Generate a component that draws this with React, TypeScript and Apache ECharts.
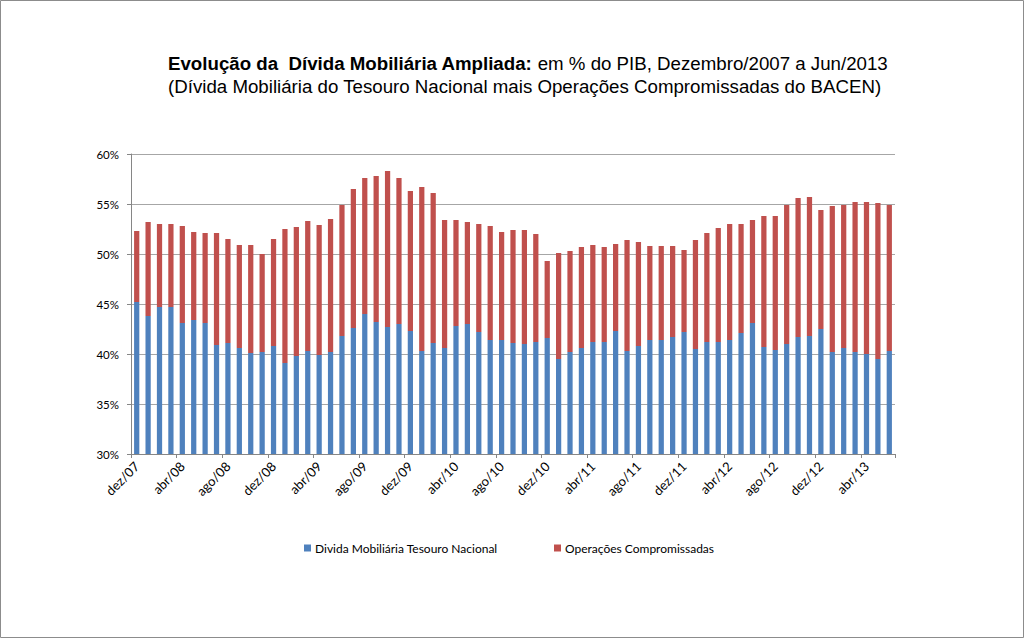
import React, { useEffect, useRef } from "react";
import * as echarts from "echarts";

const monthNames = ["jan", "fev", "mar", "abr", "mai", "jun", "jul", "ago", "set", "out", "nov", "dez"];
const fullYears = ["08", "09", "10", "11", "12"];
const categories: string[] = [
  "dez/07",
  ...fullYears.flatMap((y) => monthNames.map((m) => `${m}/${y}`)),
  ...monthNames.slice(0, 6).map((m) => `${m}/13`),
];

const tesouro = [
  45.2, 43.8, 44.7, 44.7, 43.1, 43.4, 43.1, 40.9, 41.1, 40.6, 40.1, 40.2, 40.8,
  39.1, 39.8, 40.3, 39.9, 40.2, 41.8, 42.6, 44.0, 43.2, 42.7, 43.0, 42.3,
  40.3, 41.1, 40.6, 42.8, 43.0, 42.2, 41.4, 41.4, 41.1, 41.0, 41.2, 41.6,
  39.5, 40.2, 40.6, 41.2, 41.2, 42.3, 40.3, 40.8, 41.4, 41.4, 41.7, 42.2,
  40.5, 41.2, 41.2, 41.4, 42.1, 43.1, 40.7, 40.4, 41.0, 41.7, 41.8, 42.5,
  40.2, 40.6, 40.2, 40.0, 39.5, 40.3,
];

const compromissadas = [
  7.1, 9.4, 8.3, 8.3, 9.7, 8.8, 9.0, 11.2, 10.4, 10.3, 10.8, 9.8, 10.7,
  13.4, 12.9, 13.0, 13.0, 13.3, 13.1, 13.9, 13.6, 14.6, 15.6, 14.6, 14.0,
  16.4, 15.0, 12.8, 10.6, 10.2, 10.8, 11.4, 10.8, 11.3, 11.4, 10.8, 7.7,
  10.6, 10.1, 10.1, 9.7, 9.5, 8.7, 11.1, 10.4, 9.4, 9.4, 9.1, 8.2,
  10.9, 10.9, 11.4, 11.6, 10.9, 10.3, 13.1, 13.4, 13.9, 13.9, 13.9, 11.9,
  14.6, 14.3, 15.0, 15.2, 15.6, 14.6,
];

const seriesNames = ["Divida Mobiliária Tesouro Nacional", "Operações Compromissadas"];

const App: React.FC = () => {
  const ref = useRef<HTMLDivElement>(null);

  useEffect(() => {
    document.body.style.margin = "0";
    if (!ref.current) return;
    const chart = echarts.init(ref.current, undefined, { renderer: "svg" });
    const axisFont = "Lato, 'Open Sans', sans-serif";
    chart.setOption({
      animation: false,
      backgroundColor: "#ffffff",
      title: {
        left: 163,
        top: 47,
        text:
          "{b|Evolução da  Dívida Mobiliária Ampliada:}{n| em % do PIB, Dezembro/2007 a Jun/2013}\n{n|(Dívida Mobiliária do Tesouro Nacional mais Operações Compromissadas do BACEN)}",
        textStyle: {
          rich: {
            b: { fontFamily: "'Liberation Sans', Arial, sans-serif", fontWeight: "bold", fontSize: 18.7, color: "#000", lineHeight: 23 },
            n: { fontFamily: "'Liberation Sans', Arial, sans-serif", fontWeight: "normal", fontSize: 18.7, color: "#000", lineHeight: 23 },
          },
        },
      },
      graphic: [
        {
          type: "rect",
          shape: { x: 0.5, y: 0.5, width: 1023, height: 637 },
          style: { fill: "none", stroke: "#8c8c8c", lineWidth: 1 },
          silent: true,
        },
      ],
      legend: [
        {
          data: [seriesNames[0]],
          left: 299,
          top: 537,
          icon: "rect",
          itemWidth: 7,
          itemHeight: 7,
          itemGap: 4,
          textStyle: { fontFamily: axisFont, fontSize: 12, color: "#000", padding: [0, 0, 0, -1] },
        },
        {
          data: [seriesNames[1]],
          left: 549,
          top: 537,
          icon: "rect",
          itemWidth: 7,
          itemHeight: 7,
          textStyle: { fontFamily: axisFont, fontSize: 12, color: "#000", padding: [0, 0, 0, -1] },
        },
      ],
      grid: { left: 131, right: 129, top: 154, bottom: 184 },
      xAxis: {
        type: "category",
        data: categories,
        axisLine: { lineStyle: { color: "#868686" } },
        axisTick: { show: true, interval: 3, length: 4, lineStyle: { color: "#868686" } },
        axisLabel: {
          interval: 3,
          rotate: 45,
          fontFamily: axisFont,
          fontSize: 13,
          color: "#000",
          margin: 10,
        },
      },
      yAxis: {
        type: "value",
        min: 30,
        max: 60,
        interval: 5,
        axisLine: { show: true, lineStyle: { color: "#868686" } },
        axisTick: { show: true, length: 4, lineStyle: { color: "#868686" } },
        axisLabel: {
          formatter: "{value}%",
          fontFamily: axisFont,
          fontSize: 11.5,
          color: "#000",
          margin: 12,
        },
        splitLine: { lineStyle: { color: "#a6a6a6", width: 1 } },
      },
      series: [
        {
          name: seriesNames[0],
          type: "bar",
          stack: "total",
          data: tesouro,
          barWidth: "46%",
          itemStyle: { color: "#4F81BD" },
        },
        {
          name: seriesNames[1],
          type: "bar",
          stack: "total",
          data: compromissadas,
          barWidth: "46%",
          itemStyle: { color: "#C0504D" },
        },
      ],
    });
    return () => chart.dispose();
  }, []);

  return (
    <div
      ref={ref}
      style={{ position: "absolute", left: 0, top: 0, width: 1024, height: 638 }}
    />
  );
};

export default App;
